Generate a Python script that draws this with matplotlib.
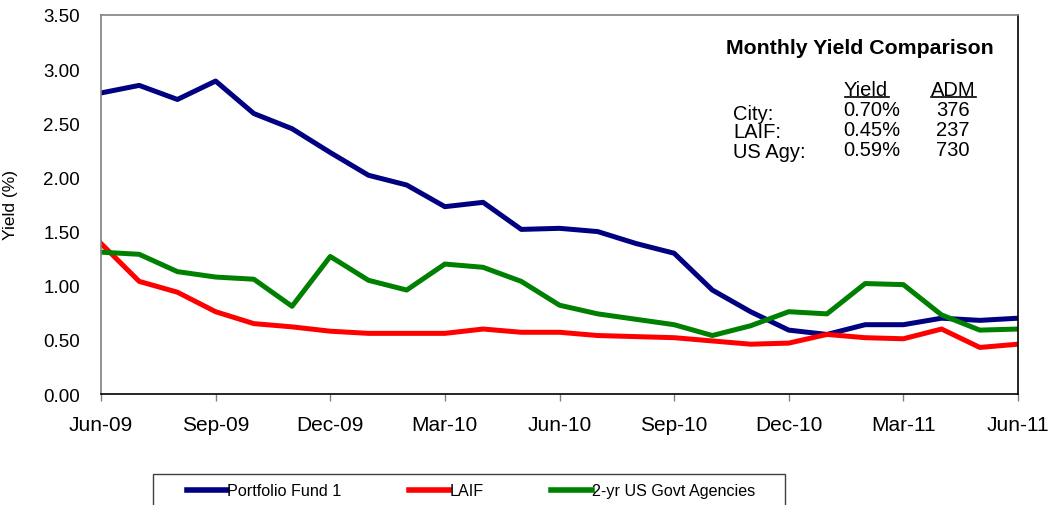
import numpy as np
import matplotlib.pyplot as plt
from matplotlib.lines import Line2D
from matplotlib.patches import Rectangle

plt.rcParams['font.family'] = ['Liberation Sans', 'DejaVu Sans']

# ---------- DATA ----------
months = ["Jun-09", "Jul-09", "Aug-09", "Sep-09", "Oct-09", "Nov-09", "Dec-09",
          "Jan-10", "Feb-10", "Mar-10", "Apr-10", "May-10", "Jun-10", "Jul-10",
          "Aug-10", "Sep-10", "Oct-10", "Nov-10", "Dec-10", "Jan-11", "Feb-11",
          "Mar-11", "Apr-11", "May-11", "Jun-11"]

portfolio_fund = [2.78, 2.85, 2.72, 2.89, 2.59, 2.45, 2.23, 2.02, 1.93, 1.73,
                  1.77, 1.52, 1.53, 1.50, 1.39, 1.30, 0.96, 0.76, 0.59, 0.55,
                  0.64, 0.64, 0.70, 0.68, 0.70]
laif = [1.39, 1.04, 0.94, 0.76, 0.65, 0.62, 0.58, 0.56, 0.56, 0.56,
        0.60, 0.57, 0.57, 0.54, 0.53, 0.52, 0.49, 0.46, 0.47, 0.55,
        0.52, 0.51, 0.60, 0.43, 0.46]
govt_agencies = [1.31, 1.29, 1.13, 1.08, 1.06, 0.81, 1.27, 1.05, 0.96, 1.20,
                 1.17, 1.04, 0.82, 0.74, 0.69, 0.64, 0.54, 0.63, 0.76, 0.74,
                 1.02, 1.01, 0.73, 0.59, 0.60]

series_names = ["Portfolio Fund 1", "LAIF", "2-yr US Govt Agencies"]

table_rows = ["City:", "LAIF:", "US Agy:"]
table_yield = ["0.70%", "0.45%", "0.59%"]
table_adm = ["376", "237", "730"]
# --------------------------

W, H = 1052, 506
fig = plt.figure(figsize=(W / 100, H / 100), dpi=100)
ax = fig.add_axes([101 / W, 1 - 395 / H, (1018 - 101) / W, (395 - 16) / H])

x = np.arange(len(months))
ax.plot(x, portfolio_fund, color="#000080", lw=3.6, label=series_names[0])
ax.plot(x, laif, color="#ff0000", lw=3.6, label=series_names[1])
ax.plot(x, govt_agencies, color="#008000", lw=3.6, label=series_names[2])

ax.set_xlim(0, len(months) - 1)
ax.set_ylim(0, 3.5)
yt = np.arange(0, 3.51, 0.5)
ax.set_yticks(yt)
ax.set_yticklabels([f"{v:.2f}" for v in yt], fontsize=13.5)
ax.set_xticks(x[::3])
ax.set_xticklabels(months[::3], fontsize=15)
ax.tick_params(axis="y", length=0, pad=15)
ax.tick_params(axis="x", length=5, width=1, color="#808080", pad=10)
ax.set_ylabel("Yield (%)", fontsize=12.5)
ax.yaxis.set_label_coords(-0.0905, 0.5)

for side in ["left", "top"]:
    ax.spines[side].set_color("#808080")
for side in ["right", "bottom"]:
    ax.spines[side].set_color("black")
for s in ax.spines.values():
    s.set_linewidth(1.2)


# summary table in upper right (pixel helpers)
def fx(px):
    return px / W


def fy(py):
    return 1 - py / H


fig.text(fx(860), fy(49), "Monthly Yield Comparison", fontsize=15.3, fontweight="bold",
         ha="center", va="center")
fig.text(fx(866), fy(90), "Yield", fontsize=14.5, ha="center", va="center")
fig.text(fx(953), fy(90), "ADM", fontsize=14.5, ha="center", va="center")
fig.add_artist(Line2D([fx(845), fx(889)], [fy(98), fy(98)], color="black", lw=1.2))
fig.add_artist(Line2D([fx(931), fx(976)], [fy(98), fy(98)], color="black", lw=1.2))
for i, (r, yv, adm) in enumerate(zip(table_rows, table_yield, table_adm)):
    fig.text(fx(733), fy(114 + i * 19), r, fontsize=14.5, ha="left", va="center")
    fig.text(fx(872), fy(111 + i * 19.5), yv, fontsize=14.5, ha="center", va="center")
    fig.text(fx(953), fy(111 + i * 19.5), adm, fontsize=14.5, ha="center", va="center")

# legend box (cut off at the bottom like the original)
fig.add_artist(Rectangle((fx(153), fy(520)), fx(785) - fx(153), fy(475) - fy(520),
                         transform=fig.transFigure, fill=False,
                         edgecolor="#404040", lw=1.0))
leg = fig.legend(loc="center left", bbox_to_anchor=(fx(187), fy(492)), ncol=3,
                 fontsize=11.6, frameon=False, handlelength=2.5,
                 handletextpad=0.0, columnspacing=4.2, borderpad=0,
                 borderaxespad=0)
for line in leg.get_lines():
    line.set_linewidth(4)

fig.savefig("out.png", dpi=100)
